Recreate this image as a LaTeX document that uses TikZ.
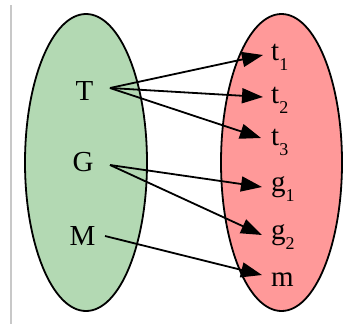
\documentclass[tikz,border=0pt]{standalone}
\usepackage{fontspec}
\setmainfont{Liberation Serif}
\usetikzlibrary{arrows.meta}
\definecolor{setgreen}{RGB}{179,217,179}
\definecolor{setred}{RGB}{255,153,153}
\definecolor{rulegray}{RGB}{200,200,200}
\newcommand\subsc[1]{\raisebox{-10pt}{\fontsize{18}{18}\selectfont #1}}
\begin{document}
\begin{tikzpicture}[x=1pt,y=-1pt,
  setshape/.style={draw=black,line width=1.8pt},
  lbl/.style={inner sep=0pt,font=\fontsize{29}{29}\selectfont},
  arr/.style={line width=1.8pt,-{Triangle[length=21pt,width=15pt]}}]
\useasboundingbox (0,0) rectangle (352,324);
\draw[rulegray,line width=1.5pt] (11,5) -- (11,324);
\filldraw[setshape,fill=setgreen] (86,162.5) ellipse [x radius=61, y radius=148.5];
\filldraw[setshape,fill=setred] (281.5,162.5) ellipse [x radius=60.5, y radius=148.5];
% left labels
\node[lbl,anchor=base] (T) at (84.5,100) {T};
\node[lbl,anchor=base] (G) at (83,171) {G};
\node[lbl,anchor=base] (M) at (82.5,245) {M};
% right labels
\node[lbl,anchor=base west] (t1) at (271,60) {t\subsc{1}};
\node[lbl,anchor=base west] (t2) at (271,103) {t\subsc{2}};
\node[lbl,anchor=base west] (t3) at (271,145) {t\subsc{3}};
\node[lbl,anchor=base west] (g1) at (271,191) {g\subsc{1}};
\node[lbl,anchor=base west] (g2) at (271,239) {g\subsc{2}};
\node[lbl,anchor=base west] (m) at (271,286) {m};
% arrow ends
\coordinate (Ts) at (110,88);
\coordinate (Gs) at (110,165);
\coordinate (Ms) at (105,236);
\coordinate (t1e) at (263,55);
\coordinate (t2e) at (263,97);
\coordinate (t3e) at (261,138);
\coordinate (g1e) at (262,187);
\coordinate (g2e) at (262,235);
\coordinate (me) at (262,275);
\draw[arr] (Ts) -- (t1e);
\draw[arr] (Ts) -- (t2e);
\draw[arr] (Ts) -- (t3e);
\draw[arr] (Gs) -- (g1e);
\draw[arr] (Gs) -- (g2e);
\draw[arr] (Ms) -- (me);
\end{tikzpicture}
\end{document}
